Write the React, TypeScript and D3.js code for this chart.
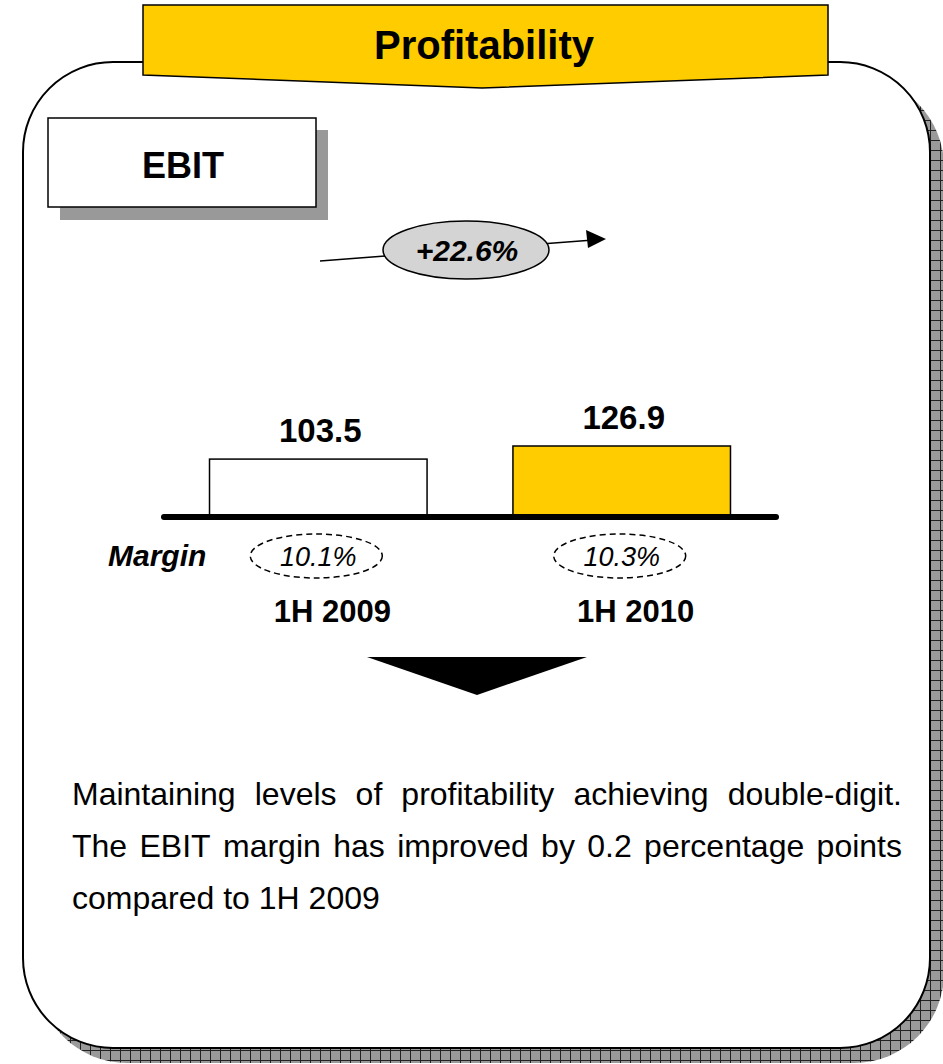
import React, { useEffect, useRef } from "react";
import * as d3 from "d3";

const periods = ["1H 2009", "1H 2010"];
const ebitValues = [103.5, 126.9];
const marginLabels = ["10.1%", "10.3%"];
const growthLabel = "+22.6%";
const titleText = "Profitability";
const boxLabel = "EBIT";
const marginTitle = "Margin";
const commentLines = [
  "Maintaining levels of profitability achieving double-digit.",
  "The EBIT margin has improved by 0.2 percentage points",
  "compared to 1H 2009",
];

const FONT = "'Liberation Sans', Arial, sans-serif";

const App = () => {
  const svgRef = useRef<SVGSVGElement>(null);

  useEffect(() => {
    const svg = d3.select(svgRef.current);
    svg.selectAll("*").remove();

    const width = 943, height = 1064;
    const baseY = 517;

    // shadow pattern
    const defs = svg.append("defs");
    const pat = defs.append("pattern")
      .attr("id", "grid")
      .attr("width", 10).attr("height", 10)
      .attr("patternUnits", "userSpaceOnUse");
    pat.append("rect").attr("width", 10).attr("height", 10).attr("fill", "#9a9a9a");
    pat.append("path").attr("d", "M0,0.5H10M0.5,0V10").attr("stroke", "#222").attr("stroke-width", 1);

    // main rounded panel + shadow
    const box = { x: 23, y: 62, w: 907, h: 986, r: 90 };
    svg.append("rect")
      .attr("x", box.x + 14).attr("y", box.y + 15)
      .attr("width", box.w).attr("height", box.h)
      .attr("rx", box.r).attr("ry", box.r)
      .attr("fill", "url(#grid)");
    svg.append("rect")
      .attr("x", box.x).attr("y", box.y)
      .attr("width", box.w).attr("height", box.h)
      .attr("rx", box.r).attr("ry", box.r)
      .attr("fill", "#fff").attr("stroke", "#000").attr("stroke-width", 2);

    // title banner
    svg.append("path")
      .attr("d", d3.line()([[143, 5], [828, 5], [828, 75], [482, 88], [143, 75]]) + "Z")
      .attr("fill", "#FFCC00").attr("stroke", "#000").attr("stroke-width", 1.5);
    svg.append("text")
      .attr("x", 484).attr("y", 59)
      .attr("text-anchor", "middle")
      .attr("font-family", FONT).attr("font-weight", "bold").attr("font-size", 40)
      .text(titleText);

    // EBIT box
    svg.append("rect").attr("x", 60).attr("y", 130).attr("width", 268).attr("height", 90).attr("fill", "#999");
    svg.append("rect").attr("x", 48).attr("y", 118).attr("width", 268).attr("height", 89)
      .attr("fill", "#fff").attr("stroke", "#000").attr("stroke-width", 1.5);
    svg.append("text")
      .attr("x", 183).attr("y", 178)
      .attr("text-anchor", "middle")
      .attr("font-family", FONT).attr("font-weight", "bold").attr("font-size", 36)
      .text(boxLabel);

    // growth arrow
    svg.append("line")
      .attr("x1", 320).attr("y1", 261).attr("x2", 600).attr("y2", 239.5)
      .attr("stroke", "#000").attr("stroke-width", 1.5);
    svg.append("path")
      .attr("d", "M606,239L586,230L588,248Z").attr("fill", "#000");
    svg.append("ellipse")
      .attr("cx", 466).attr("cy", 250).attr("rx", 83).attr("ry", 29)
      .attr("fill", "#d4d4d4").attr("stroke", "#000").attr("stroke-width", 1.5);
    svg.append("text")
      .attr("x", 467).attr("y", 261)
      .attr("text-anchor", "middle")
      .attr("font-family", FONT).attr("font-weight", "bold").attr("font-style", "italic").attr("font-size", 30)
      .text(growthLabel);

    // bars
    const x = d3.scaleBand()
      .domain(periods)
      .range([164, 776])
      .paddingInner(0.283)
      .paddingOuter(0.15);
    const y = d3.scaleLinear()
      .domain([0, d3.max(ebitValues) as number])
      .range([baseY, 446]);

    const data = periods.map((p, i) => ({ p, v: ebitValues[i], m: marginLabels[i] }));

    svg.selectAll(".bar")
      .data(data)
      .enter()
      .append("rect")
      .attr("x", d => x(d.p) as number)
      .attr("y", d => y(d.v))
      .attr("width", x.bandwidth())
      .attr("height", d => baseY - y(d.v))
      .attr("fill", (d, i) => (i === 0 ? "#fff" : "#FFCC00"))
      .attr("stroke", "#000").attr("stroke-width", 1.5);

    svg.selectAll(".val")
      .data(data)
      .enter()
      .append("text")
      .attr("x", d => (x(d.p) as number) + x.bandwidth() / 2 + 2)
      .attr("y", d => y(d.v) - 17)
      .attr("text-anchor", "middle")
      .attr("font-family", FONT).attr("font-weight", "bold").attr("font-size", 33)
      .text(d => d.v.toFixed(1));

    svg.append("line")
      .attr("x1", x.range()[0]).attr("x2", x.range()[1])
      .attr("y1", baseY).attr("y2", baseY)
      .attr("stroke", "#000").attr("stroke-width", 6).attr("stroke-linecap", "round");

    // margins
    svg.append("text")
      .attr("x", 108).attr("y", 566)
      .attr("font-family", FONT).attr("font-weight", "bold").attr("font-style", "italic").attr("font-size", 30)
      .text(marginTitle);
    svg.selectAll(".mell")
      .data(data)
      .enter()
      .append("ellipse")
      .attr("cx", d => (x(d.p) as number) + x.bandwidth() / 2 - 2)
      .attr("cy", 556).attr("rx", 66).attr("ry", 22)
      .attr("fill", "none").attr("stroke", "#000").attr("stroke-width", 1.5)
      .attr("stroke-dasharray", "6,4");
    svg.selectAll(".mtxt")
      .data(data)
      .enter()
      .append("text")
      .attr("x", d => (x(d.p) as number) + x.bandwidth() / 2)
      .attr("y", 566)
      .attr("text-anchor", "middle")
      .attr("font-family", FONT).attr("font-style", "italic").attr("font-size", 27)
      .text(d => d.m);

    // period labels
    svg.selectAll(".cat")
      .data(data)
      .enter()
      .append("text")
      .attr("x", d => (x(d.p) as number) + x.bandwidth() / 2 + 14)
      .attr("y", 622)
      .attr("text-anchor", "middle")
      .attr("font-family", FONT).attr("font-weight", "bold").attr("font-size", 31)
      .text(d => d.p);

    // down triangle
    svg.append("path")
      .attr("d", "M367,657L587,657L477,695Z")
      .attr("fill", "#000");

    // justified comment
    const left = 72, right = 902;
    commentLines.forEach((line, li) => {
      const yy = 805 + li * 52;
      const words = line.split(" ");
      const g = svg.append("g");
      const nodes = words.map(w =>
        g.append("text")
          .attr("y", yy)
          .attr("font-family", FONT).attr("font-size", 32)
          .attr("fill", "#000")
          .text(w)
      );
      const widths = nodes.map(n => (n.node() as SVGTextElement).getComputedTextLength());
      const total = d3.sum(widths);
      const isLast = li === commentLines.length - 1;
      const gap = isLast ? 8.9 : (right - left - total) / (words.length - 1);
      let cx = left;
      nodes.forEach((n, i) => {
        n.attr("x", cx);
        cx += widths[i] + gap;
      });
    });

    svg.attr("width", width).attr("height", height);
  }, []);

  return (
    <svg
      ref={svgRef}
      width={943}
      height={1064}
      style={{ position: "absolute", left: 0, top: 0, background: "#fff" }}
    ></svg>
  );
};

export default App;
